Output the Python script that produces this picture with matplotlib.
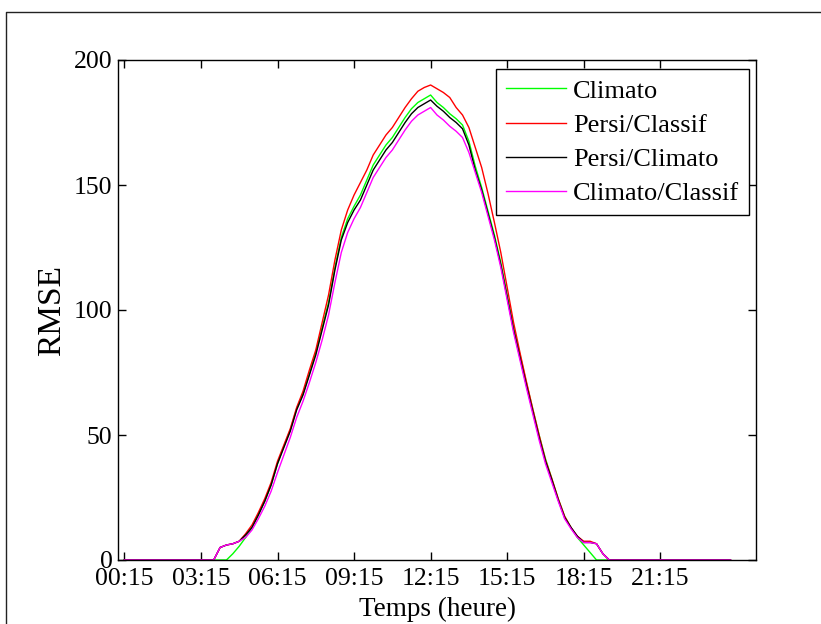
# RMSE des quatre modeles sur une journee (pas de 15 min)
import matplotlib
matplotlib.use("Agg")
import matplotlib.pyplot as plt
from matplotlib.lines import Line2D
import numpy as np

plt.rcParams['font.family'] = ['Liberation Serif', 'DejaVu Serif']

# index of the 15-min step, 1 = 00:15 ... 96 = 24:00
steps = np.arange(1, 97)

climato = [0, 0, 0, 0, 0, 0, 0, 0, 0, 0, 0, 0, 0, 0, 0, 0, 0,
           2.5, 5.5, 9, 13, 18, 23.5, 30, 38.5, 45.5, 52, 60.5, 66.5, 74.5,
           83, 93, 103, 117, 129, 136.5, 141.5, 146, 152, 158, 162, 166, 169,
           173, 177, 180.5, 183, 184.5, 186, 183, 181, 178.5, 176.5, 174,
           167.5, 157.5, 149, 139.5, 130, 119, 106, 93, 82, 71, 60.5, 50,
           40.5, 32.5, 24.5, 17.5, 13, 9, 6, 3,
           0, 0, 0, 0, 0, 0, 0, 0, 0, 0, 0, 0, 0, 0, 0, 0, 0, 0, 0, 0, 0, 0]

persi_classif = [0, 0, 0, 0, 0, 0, 0, 0, 0, 0, 0, 0, 0, 0, 0,
                 5, 6, 6.5, 7.5, 10.5, 14, 19, 24.5, 31, 39.5, 46, 52.5, 61,
                 67.5, 76, 84, 95, 106, 120, 132, 140, 146, 151, 156, 162, 166,
                 170, 173, 177, 181, 184.5, 187.5, 189, 190, 188.5, 187, 185,
                 181, 178, 173, 165, 157, 146.5, 135, 123, 109, 95, 83, 71.5,
                 60.5, 50, 40, 32.5, 24.5, 17.5, 13, 9.5, 7.5, 7.5, 6.5, 2.5,
                 0, 0, 0, 0, 0, 0, 0, 0, 0, 0, 0, 0, 0, 0, 0, 0, 0, 0, 0, 0]

persi_climato = [0, 0, 0, 0, 0, 0, 0, 0, 0, 0, 0, 0, 0, 0, 0,
                 5, 6, 6.5, 7.5, 10, 13, 18, 23.5, 30, 38.5, 45, 51.5, 60, 66,
                 74, 82, 92, 102, 116, 128, 135, 140, 144, 150, 156, 160, 164,
                 167, 171, 175, 178.5, 181, 182.5, 184, 181.5, 179.5, 177, 175,
                 172.5, 166, 156, 148, 138.5, 129, 118, 105, 92, 81, 70, 59.5,
                 49, 39.5, 32, 24, 17, 13, 9.5, 7, 7, 6.5, 2.5,
                 0, 0, 0, 0, 0, 0, 0, 0, 0, 0, 0, 0, 0, 0, 0, 0, 0, 0, 0, 0]

climato_classif = [0, 0, 0, 0, 0, 0, 0, 0, 0, 0, 0, 0, 0, 0, 0,
                   5, 6, 6.5, 7.5, 9, 12, 16.5, 21.5, 27.5, 35, 42, 49, 57,
                   63.5, 71, 79, 88, 98, 111, 123, 131, 136.5, 141, 147, 153,
                   157, 161, 164, 168, 172, 175.5, 178, 179.5, 181, 178, 176,
                   173.5, 171.5, 169, 163, 155, 147, 137.5, 128, 117, 104, 91,
                   80, 69, 58.5, 48, 38.5, 31, 23.5, 16.5, 12.5, 9, 7, 7, 6.5,
                   2.5,
                   0, 0, 0, 0, 0, 0, 0, 0, 0, 0, 0, 0, 0, 0, 0, 0, 0, 0, 0, 0]

tick_steps = [1, 13, 25, 37, 49, 61, 73, 85]
tick_labels = ['00:15', '03:15', '06:15', '09:15', '12:15', '15:15', '18:15', '21:15']

fig = plt.figure(figsize=(8.21, 6.24), dpi=100)
ax = fig.add_axes([118 / 821, 64 / 624, 638 / 821, 500 / 624])

ax.plot(steps, climato, color=(0, 1, 0), lw=1.0, label='Climato')
ax.plot(steps, persi_classif, color=(1, 0, 0), lw=1.0, label='Persi/Classif')
ax.plot(steps, persi_climato, color='black', lw=1.0, label='Persi/Climato')
ax.plot(steps, climato_classif, color=(1, 0, 1), lw=1.0, label='Climato/Classif')

ax.set_xlim(0, 100)
ax.set_ylim(0, 200)
ax.set_xticks(tick_steps)
ax.set_xticklabels(tick_labels)
ax.set_yticks([0, 50, 100, 150, 200])
ax.tick_params(direction='in', top=True, right=True, length=6, width=1,
               labelsize=18.5, pad=4)
ax.tick_params(axis='x', pad=6)
for s in ax.spines.values():
    s.set_linewidth(1.0)

ax.set_xlabel('Temps (heure)', fontsize=19.5, labelpad=5)
ax.set_ylabel('RMSE', fontsize=24, labelpad=5)

leg = ax.legend(loc='upper right', bbox_to_anchor=(0.989, 0.982),
                borderaxespad=0, fontsize=19, fancybox=False, framealpha=1,
                edgecolor='black', labelspacing=0.41, borderpad=0.38,
                handlelength=2.27, handletextpad=0.25)
leg.get_frame().set_linewidth(1.0)

# cadre de la figure (coupe a droite et en bas)
fig.add_artist(Line2D([6 / 821, 6 / 821, 1], [0, 1 - 12 / 624, 1 - 12 / 624],
                      transform=fig.transFigure, color='#222222', lw=1.0))

fig.savefig('out.png', dpi=100)
